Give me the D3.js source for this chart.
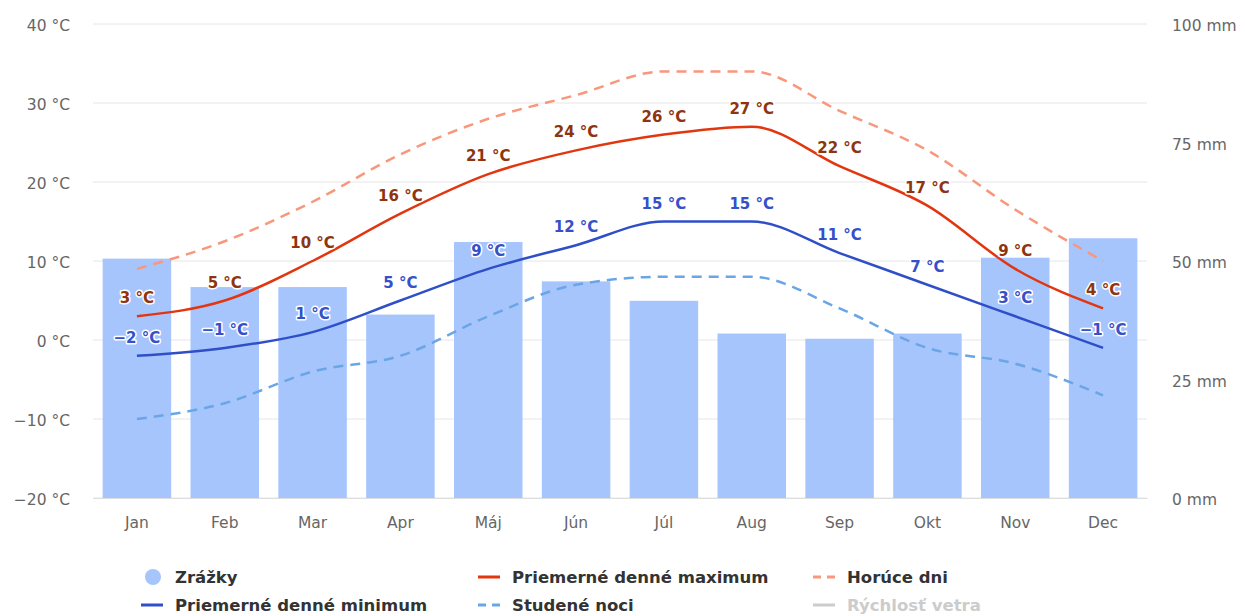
<!DOCTYPE html>
<html>
<head>
<meta charset="utf-8">
<script src="https://cdn.jsdelivr.net/npm/d3@7"></script>
<style>
  body { margin: 0; background: #fff; font-family: "DejaVu Sans", Verdana, sans-serif; }
  .tick text { fill: #666; font-size: 15.5px; font-family: "DejaVu Sans", sans-serif; }
  .lbl { font-size: 15px; font-weight: bold; paint-order: stroke; stroke: #fff; stroke-width: 3px; stroke-linejoin: round; }
  .leg { font-size: 16.5px; font-weight: bold; fill: #333; }
</style>
</head>
<body>
<script>
//data
const months = ['Jan', 'Feb', 'Mar', 'Apr', 'Máj', 'Jún', 'Júl', 'Aug', 'Sep', 'Okt', 'Nov', 'Dec']
const precip = [50.5, 44.5, 44.5, 38.7, 54, 45.7, 41.6, 34.7, 33.6, 34.7, 50.7, 54.8]
const tMax = [3, 5, 10, 16, 21, 24, 26, 27, 22, 17, 9, 4]
const tMin = [-2, -1, 1, 5, 9, 12, 15, 15, 11, 7, 3, -1]
const hotDays = [9, 12.5, 17.5, 23.5, 28, 31, 34, 34, 29, 24, 16.5, 10]
const coldNights = [-10, -8, -4, -2, 3, 7, 8, 8, 4, -1, -3, -7]
const tempTicks = [-20, -10, 0, 10, 20, 30, 40]
const mmTicks = [0, 25, 50, 75, 100]

const width = 1245
const height = 616
const margin = { top: 24, left: 93, right: 98, bottom: 118 }
const innerWidth = width - margin.left - margin.right
const innerHeight = height - margin.top - margin.bottom

//colors
const barColor = '#a7c5fd'
const maxColor = '#e2360f'
const minColor = '#2f4fc8'
const hotColor = '#f8977c'
const coldColor = '#6aa6e6'

const svg = d3.select('body').append('svg')
  .attr('width', width)
  .attr('height', height)

const g = svg.append('g')
  .attr('transform', `translate(${margin.left},${margin.top})`)

//=========== SCALES ===========
const xScale = d3.scaleBand()
  .domain(months)
  .range([0, innerWidth])
  .paddingInner(0.22)
  .paddingOuter(0.11)

const yScale = d3.scaleLinear().domain([-20, 40]).range([innerHeight, 0])
const mmScale = d3.scaleLinear().domain([0, 100]).range([innerHeight, 0])

//=========== GRID + AXES ===========
g.append('g')
  .selectAll('line')
  .data(tempTicks)
  .enter().append('line')
  .attr('x1', 0)
  .attr('x2', innerWidth)
  .attr('y1', d => yScale(d))
  .attr('y2', d => yScale(d))
  .attr('stroke', '#e6e6e6')
  .attr('stroke-width', 1)

const yAxis = g.append('g')
  .call(d3.axisLeft(yScale).tickValues(tempTicks).tickSize(0).tickPadding(23)
    .tickFormat(d => `${d} °C`.replace('-', '−')))
yAxis.select('.domain').remove()
yAxis.selectAll('.tick text').attr('dy', '0.45em')

const mmAxis = g.append('g')
  .attr('transform', `translate(${innerWidth},0)`)
  .call(d3.axisRight(mmScale).tickValues(mmTicks).tickSize(0).tickPadding(25)
    .tickFormat(d => `${d} mm`))
mmAxis.select('.domain').remove()
mmAxis.selectAll('.tick text').attr('dy', '0.45em')

const xAxis = g.append('g')
  .attr('transform', `translate(0,${innerHeight})`)
  .call(d3.axisBottom(xScale).tickSize(0).tickPadding(19))
xAxis.select('.domain').attr('stroke', '#ddd')

//=========== BARS ===========
g.selectAll('.bar')
  .data(precip)
  .enter().append('rect')
  .attr('class', 'bar')
  .attr('x', (d, i) => xScale(months[i]))
  .attr('width', xScale.bandwidth())
  .attr('y', d => mmScale(d))
  .attr('height', d => innerHeight - mmScale(d))
  .attr('fill', barColor)

//=========== LINES ===========
const cx = i => xScale(months[i]) + xScale.bandwidth() / 2
const line = d3.line()
  .x((d, i) => cx(i))
  .y(d => yScale(d))
  .curve(d3.curveMonotoneX)

const series = [
  { values: hotDays, color: hotColor, dash: '10,7' },
  { values: coldNights, color: coldColor, dash: '10,7' },
  { values: tMax, color: maxColor, dash: null },
  { values: tMin, color: minColor, dash: null }
]
series.forEach(s => {
  g.append('path')
    .datum(s.values)
    .attr('d', line)
    .attr('fill', 'none')
    .attr('stroke', s.color)
    .attr('stroke-width', 2.5)
    .attr('stroke-dasharray', s.dash)
})

//data labels
const labels = [
  { values: tMax, color: '#8e3510' },
  { values: tMin, color: '#3550c9' }
]
labels.forEach(s => {
  g.append('g').selectAll('text')
    .data(s.values)
    .enter().append('text')
    .attr('class', 'lbl')
    .attr('x', (d, i) => cx(i))
    .attr('y', d => yScale(d) - 13)
    .attr('text-anchor', 'middle')
    .attr('fill', s.color)
    .text(d => `${d} °C`.replace('-', '−'))
})

//=========== LEGEND ===========
const legendItems = [
  { name: 'Zrážky', type: 'circle', color: barColor, x: 175, y: 577 },
  { name: 'Priemerné denné maximum', type: 'line', color: maxColor, x: 512, y: 577 },
  { name: 'Horúce dni', type: 'dash', color: hotColor, x: 847, y: 577 },
  { name: 'Priemerné denné minimum', type: 'line', color: minColor, x: 175, y: 605 },
  { name: 'Studené noci', type: 'dash', color: coldColor, x: 512, y: 605 },
  { name: 'Rýchlosť vetra', type: 'line', color: '#ccc', x: 847, y: 605, hidden: true }
]
const legend = svg.append('g')
legendItems.forEach(it => {
  const li = legend.append('g').attr('transform', `translate(${it.x},${it.y})`)
  if (it.type === 'circle') {
    li.append('circle').attr('cx', -22).attr('cy', 0).attr('r', 8).attr('fill', it.color)
  } else {
    li.append('line')
      .attr('x1', -34).attr('x2', -12)
      .attr('y1', 0).attr('y2', 0)
      .attr('stroke', it.color)
      .attr('stroke-width', 3)
      .attr('stroke-dasharray', it.type === 'dash' ? '8,6' : null)
  }
  li.append('text')
    .attr('class', 'leg')
    .attr('dy', '0.35em')
    .style('fill', it.hidden ? '#ccc' : null)
    .text(it.name)
})
</script>
</body>
</html>
